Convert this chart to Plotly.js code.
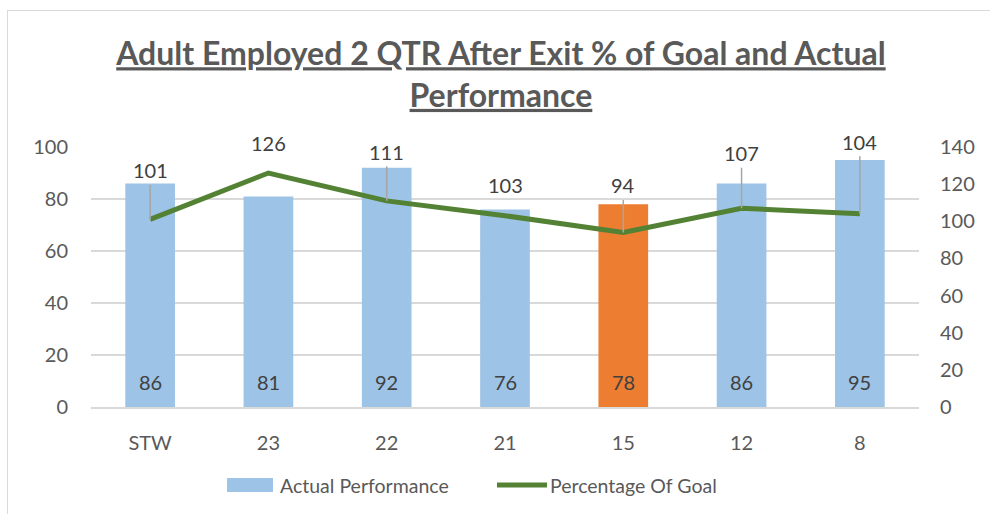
<!DOCTYPE html>
<html>
<head>
<meta charset="utf-8">
<script src="https://cdn.plot.ly/plotly-3.0.1.min.js"></script>
<style>
  html, body { margin: 0; padding: 0; background: #ffffff; }
  #wrap { position: relative; width: 990px; height: 514px; overflow: hidden; }
  #frame { position: absolute; left: 7px; top: 10px; width: 1000px; height: 520px;
           border-left: 1.5px solid #d9d9d9; border-top: 1.5px solid #d9d9d9; pointer-events: none; }
  #chart { position: absolute; left: 0; top: 0; width: 990px; height: 514px; }
</style>
</head>
<body>
<div id="wrap">
  <div id="chart"></div>
  <div id="frame"></div>
</div>
<script>
// ---- data ----
const categories = ['STW', '23', '22', '21', '15', '12', '8'];
const actualPerformance = [86, 81, 92, 76, 78, 86, 95];
const percentageOfGoal = [101, 126, 111, 103, 94, 107, 104];
const highlightCategory = '15';
const seriesNames = ['Actual Performance', 'Percentage Of Goal'];
// label offsets (pixels above each line point), style only
const labelOffsets = [-49, -30, -49, -31, -47, -55, -72];

const blue = '#9DC3E6';
const orange = '#ED7D31';
const green = '#548235';
const axisText = '#595959';
const labelText = '#404040';
const font = 'Lato, "Open Sans", sans-serif';

const barColors = categories.map(c => c === highlightCategory ? orange : blue);

const traces = [
  {
    type: 'bar',
    name: seriesNames[0],
    x: categories,
    y: actualPerformance,
    marker: { color: barColors },
    width: 0.42,
    yaxis: 'y',
    hoverinfo: 'x+y',
    showlegend: false
  },
  {
    type: 'scatter',
    mode: 'lines',
    name: seriesNames[1],
    x: categories,
    y: percentageOfGoal,
    line: { color: green, width: 5 },
    yaxis: 'y2',
    hoverinfo: 'x+y',
    showlegend: false
  }
];

const annotations = [];
categories.forEach((c, i) => {
  annotations.push({
    x: i, y: percentageOfGoal[i], xref: 'x', yref: 'y2',
    text: String(percentageOfGoal[i]),
    showarrow: true, arrowhead: 0, arrowwidth: 1.5,
    arrowcolor: Math.abs(labelOffsets[i]) > 40 ? '#a6a6a6' : 'rgba(0,0,0,0)',
    ax: 0, ay: labelOffsets[i], standoff: 0, borderpad: 2,
    font: { family: font, size: 20, color: labelText }
  });
  annotations.push({
    x: i, y: 0, xref: 'x', yref: 'y',
    text: String(actualPerformance[i]),
    showarrow: false, yanchor: 'middle', yshift: 25,
    font: { family: font, size: 20, color: labelText }
  });
});

// custom legend (Excel-style wide swatches)
annotations.push({
  xref: 'paper', yref: 'paper', x: 0.2258, y: -0.30, xanchor: 'left', yanchor: 'middle',
  text: seriesNames[0], showarrow: false, font: { family: font, size: 19.5, color: axisText }
});
annotations.push({
  xref: 'paper', yref: 'paper', x: 0.5519, y: -0.30, xanchor: 'left', yanchor: 'middle',
  text: seriesNames[1], showarrow: false, font: { family: font, size: 19.5, color: axisText }
});
const shapes = [
  { type: 'rect', xref: 'paper', yref: 'paper', x0: 0.1643, x1: 0.2198, y0: -0.2731, y1: -0.3269,
    fillcolor: blue, line: { width: 0 } },
  { type: 'line', xref: 'paper', yref: 'paper', x0: 0.4903, x1: 0.5507, y0: -0.30, y1: -0.30,
    line: { color: green, width: 5 } }
];

const layout = {
  width: 990, height: 514,
  paper_bgcolor: '#ffffff', plot_bgcolor: '#ffffff',
  margin: { l: 91, r: 71, t: 147, b: 107, autoexpand: false },
  title: {
    text: '<u>Adult Employed 2 QTR After Exit % of Goal and Actual</u><br><u>Performance</u>',
    font: { family: font, size: 32, color: axisText, weight: 'bold' },
    x: 0.506, xanchor: 'center', y: 0.873, yanchor: 'top'
  },
  font: { family: font, color: axisText },
  showlegend: false,
  xaxis: {
    type: 'category', range: [-0.5, categories.length - 0.5], autorange: false,
    tickfont: { family: font, size: 20, color: axisText },
    showgrid: false, showline: true, linecolor: '#d9d9d9', linewidth: 1.5,
    ticks: '', ticklabelstandoff: 17, fixedrange: true, automargin: false
  },
  yaxis: {
    range: [0, 100], dtick: 20,
    tickfont: { family: font, size: 20, color: axisText },
    showgrid: true, gridcolor: '#d9d9d9', gridwidth: 1.5,
    zeroline: false, showline: false, ticks: '', ticklabelstandoff: 22, fixedrange: true, automargin: false
  },
  yaxis2: {
    range: [0, 140], dtick: 20, overlaying: 'y', side: 'right',
    tickfont: { family: font, size: 20, color: axisText },
    showgrid: false, zeroline: false, showline: false, ticks: '', ticklabelstandoff: 20, fixedrange: true, automargin: false
  },
  annotations: annotations,
  shapes: shapes
};

Plotly.newPlot('chart', traces, layout, { displayModeBar: false, staticPlot: true });
</script>
</body>
</html>
